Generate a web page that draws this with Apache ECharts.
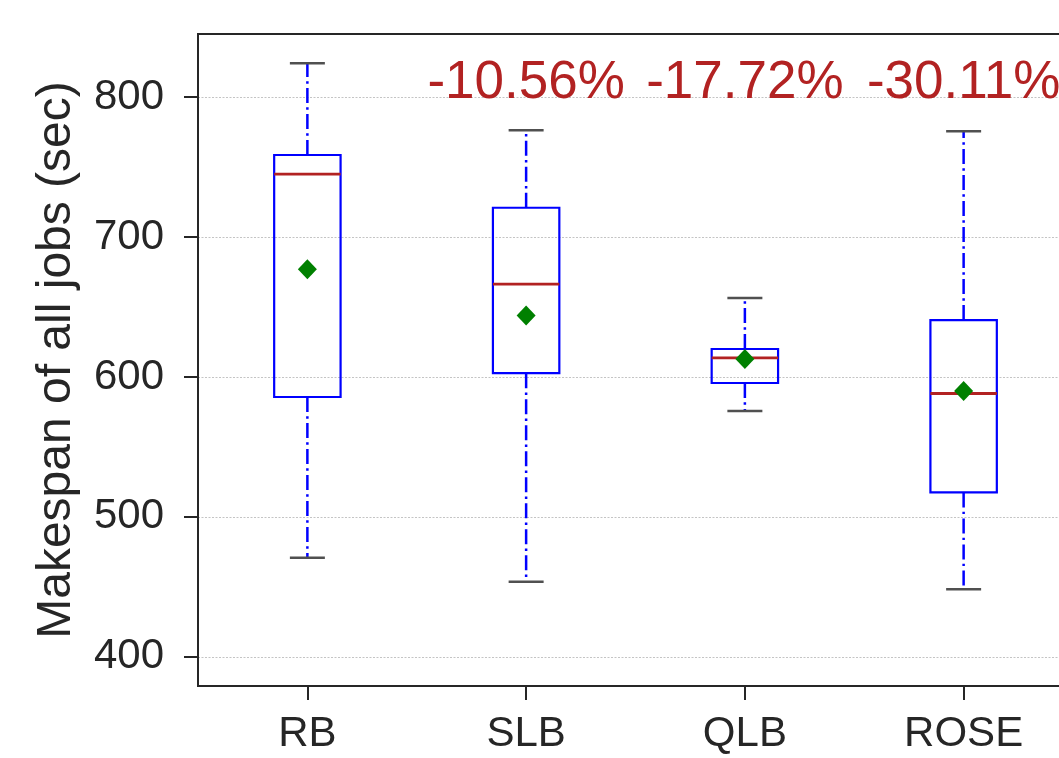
<!DOCTYPE html>
<html>
<head>
<meta charset="utf-8">
<script src="https://cdn.jsdelivr.net/npm/echarts@6/dist/echarts.min.js"></script>
<style>
html,body{margin:0;padding:0;background:#fff;}
#chart{width:1059px;height:758px;}
</style>
</head>
<body>
<div id="chart"></div>
<script>
// ---- data ----
const categories = ['RB', 'SLB', 'QLB', 'ROSE'];
const whiskerLow = [470.7, 453.6, 575.7, 448.2];
const q1Values   = [585.7, 602.7, 595.7, 517.5];
const medians    = [745.0, 666.4, 613.6, 588.2];
const q3Values   = [758.7, 721.0, 620.0, 640.7];
const whiskerHigh= [824.3, 776.4, 656.4, 775.7];
const means      = [677.1, 644.0, 612.9, 590.0];
const yTicks = [400, 500, 600, 700, 800];
const annotationCats = ['SLB', 'QLB', 'ROSE'];
const annotationTexts = ['-10.56%', '-17.72%', '-30.11%'];
const ANNOTATION_Y = 810;

const FONT = '"Liberation Sans", Arial, Helvetica, sans-serif';
const DARK = '#262626';

const boxData = categories.map((c, i) => [i, whiskerLow[i], q1Values[i], medians[i], q3Values[i], whiskerHigh[i]]);
const meanData = categories.map((c, i) => [i, means[i]]);
const annData = annotationCats.map((c, i) => ({ value: [categories.indexOf(c), ANNOTATION_Y], name: annotationTexts[i] }));

const chart = echarts.init(document.getElementById('chart'), null, { renderer: 'canvas' });

function renderBox(params, api) {
  const idx = api.value(0);
  const band = api.size([1, 0])[0];
  const boxW = band * 0.3036;
  const capW = band * 0.16;
  const pMin = api.coord([idx, api.value(1)]);
  const pQ1 = api.coord([idx, api.value(2)]);
  const pMed = api.coord([idx, api.value(3)]);
  const pQ3 = api.coord([idx, api.value(4)]);
  const pMax = api.coord([idx, api.value(5)]);
  const x = pMed[0];
  const whiskerStyle = { stroke: '#0000ff', lineWidth: 2.5, lineDash: [15, 4.3, 2.4, 4.3], fill: null };
  const capStyle = { stroke: '#505050', lineWidth: 2.5 };
  return {
    type: 'group',
    children: [
      { type: 'line', shape: { x1: x, y1: pQ3[1], x2: x, y2: pMax[1] }, style: whiskerStyle },
      { type: 'line', shape: { x1: x, y1: pQ1[1], x2: x, y2: pMin[1] }, style: whiskerStyle },
      { type: 'line', shape: { x1: x - capW / 2, y1: pMax[1], x2: x + capW / 2, y2: pMax[1] }, style: capStyle },
      { type: 'line', shape: { x1: x - capW / 2, y1: pMin[1], x2: x + capW / 2, y2: pMin[1] }, style: capStyle },
      { type: 'rect', shape: { x: x - boxW / 2, y: pQ3[1], width: boxW, height: pQ1[1] - pQ3[1] },
        style: { stroke: '#0000ff', lineWidth: 2.2, fill: null } },
      { type: 'line', shape: { x1: x - boxW / 2, y1: pMed[1], x2: x + boxW / 2, y2: pMed[1] },
        style: { stroke: '#b22222', lineWidth: 2.8 } }
    ]
  };
}

const option = {
  animation: false,
  backgroundColor: '#ffffff',
  grid: {
    left: 198, width: 875, top: 34, bottom: 72,
    outerBoundsMode: 'none',
    containLabel: false,
    show: true, borderColor: DARK, borderWidth: 2, backgroundColor: 'transparent'
  },
  xAxis: {
    type: 'category',
    data: categories,
    boundaryGap: true,
    axisLine: { show: true, onZero: false, lineStyle: { color: DARK, width: 2 } },
    axisTick: { show: true, alignWithLabel: true, inside: false, length: 14, lineStyle: { color: DARK, width: 2 } },
    axisLabel: { fontSize: 42, fontFamily: FONT, color: DARK, margin: 27 },
    splitLine: { show: false }
  },
  yAxis: {
    type: 'value',
    min: 379.1,
    max: 845.2,
    name: 'Makespan of all jobs (sec)',
    nameLocation: 'middle',
    nameGap: 117,
    nameTextStyle: { fontSize: 48, fontFamily: FONT, color: DARK },
    axisLine: { show: true, lineStyle: { color: DARK, width: 2 } },
    axisTick: { show: true, inside: false, length: 14, customValues: yTicks, lineStyle: { color: DARK, width: 2 } },
    axisLabel: { fontSize: 42, fontFamily: FONT, color: DARK, margin: 34, customValues: yTicks },
    splitLine: { show: true, lineStyle: { color: '#c4c4c4', width: 1, type: [2, 1.5] } }
  },
  series: [
    {
      type: 'custom',
      renderItem: renderBox,
      data: boxData,
      encode: { x: 0, y: [1, 2, 3, 4, 5] },
      z: 3,
      clip: false
    },
    {
      type: 'scatter',
      data: meanData,
      symbol: 'diamond',
      symbolSize: [19, 20],
      itemStyle: { color: '#008000', opacity: 1 },
      z: 5
    },
    {
      type: 'scatter',
      data: annData,
      symbol: 'circle',
      symbolSize: 1,
      itemStyle: { color: 'rgba(0,0,0,0)', opacity: 1 },
      clip: false,
      silent: true,
      label: {
        show: true,
        position: 'inside',
        formatter: p => p.name,
        fontSize: 53,
        fontFamily: FONT,
        color: '#b22222'
      },
      labelLayout: { hideOverlap: false },
      z: 6
    }
  ]
};

chart.setOption(option);
</script>
</body>
</html>
